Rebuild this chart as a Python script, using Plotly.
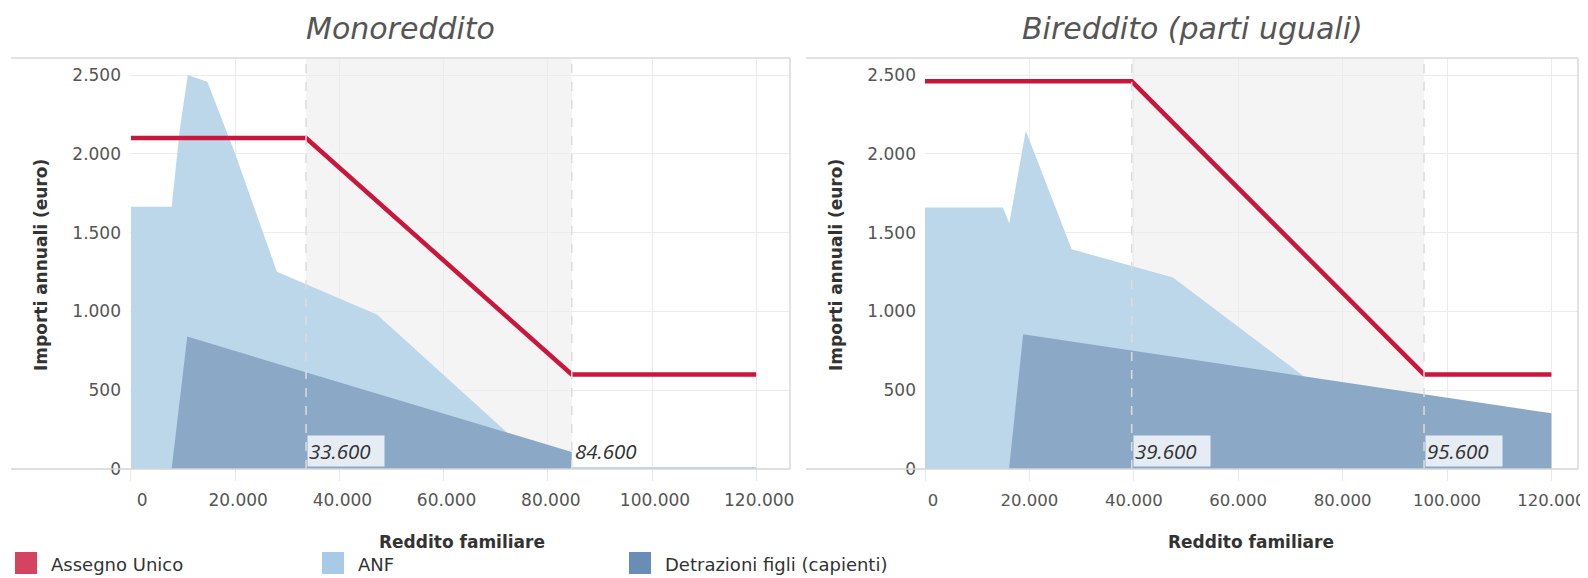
import plotly.graph_objects as go

# page body has an 8px margin: figure is sized to fill the rest of the window
OFF = 8
W, H = 1588 - OFF, 578 - OFF

# ---------------- data ----------------
# Monoreddito
mono_au_x = [0, 33600, 84600, 120000]
mono_au_y = [2100, 2100, 600, 600]
mono_anf_x = [0, 7800, 9400, 10900, 14650, 20000, 28000, 47200, 72400, 84600, 120000]
mono_anf_y = [1664, 1664, 2160, 2500, 2457, 2000, 1252, 980, 226, 12, 12]
mono_det_x = [0, 7800, 10800, 84600, 84600, 120000]
mono_det_y = [0, 0, 840, 108, 0, 0]
mono_marks = [33600, 84600]

# Bireddito (parti uguali)
bi_au_x = [0, 39600, 95600, 120000]
bi_au_y = [2460, 2460, 600, 600]
bi_anf_x = [0, 14900, 16150, 19300, 28100, 47500, 73100, 84000, 95600, 120000]
bi_anf_y = [1660, 1660, 1560, 2147, 1394, 1215, 575, 300, 60, 10]
bi_det_x = [0, 16100, 18800, 120000]
bi_det_y = [0, 0, 855, 353]
bi_marks = [39600, 95600]

titles = ["Monoreddito", "Bireddito (parti uguali)"]
series_names = ["Assegno Unico", "ANF", "Detrazioni figli (capienti)"]
x_title = "Reddito familiare"
y_title = "Importi annuali (euro)"
mark_labels_mono = ["33.600", "84.600"]
mark_labels_bi = ["39.600", "95.600"]
x_tickvals = [0, 20000, 40000, 60000, 80000, 100000, 120000]
x_ticklabels = ["\u00a0\u00a0\u00a00", "20.000", "40.000", "60.000", "80.000", "100.000", "120.000"]

# ---------------- style ----------------
RED = "#c9163c"
ANF_FILL = "#bcd7ea"
DET_FILL = "#8ba9c7"
LEG_COLORS = ["#d4435f", "#a7cae6", "#6a8db5"]
GRID = "#ececec"
BAND = "#f4f4f4"
TICKFONT = dict(family="DejaVu Sans", size=17, color="#555555")
TITLEFONT = dict(family="DejaVu Sans", size=17, color="#333333", weight=700)


def px(x):
    return (x - OFF) / W


def py(y):
    return 1 - (y - OFF) / H


# pixel geometry (window pixels) of the two plot areas
L_X0, L_X1 = 130, 790
R_X0, R_X1 = 925, 1578
Y_TOP, Y_BOT = 58, 469

fig = go.Figure()


def add_panel(xa, ya, au_x, au_y, anf_x, anf_y, det_x, det_y):
    fig.add_trace(go.Scatter(x=anf_x, y=anf_y, mode="lines", fill="tozeroy",
                             fillcolor=ANF_FILL, line=dict(width=0, color=ANF_FILL),
                             name=series_names[1], showlegend=False, xaxis=xa, yaxis=ya))
    fig.add_trace(go.Scatter(x=det_x, y=det_y, mode="lines", fill="tozeroy",
                             fillcolor=DET_FILL, line=dict(width=0, color=DET_FILL),
                             name=series_names[2], showlegend=False, xaxis=xa, yaxis=ya))
    fig.add_trace(go.Scatter(x=au_x, y=au_y, mode="lines",
                             line=dict(width=4.5, color=RED),
                             name=series_names[0], showlegend=False, xaxis=xa, yaxis=ya))


add_panel("x", "y", mono_au_x, mono_au_y, mono_anf_x, mono_anf_y, mono_det_x, mono_det_y)
add_panel("x2", "y2", bi_au_x, bi_au_y, bi_anf_x, bi_anf_y, bi_det_x, bi_det_y)

ydom = [py(Y_BOT), py(Y_TOP)]
ymax = 2500 + (75 - Y_TOP) / 78.8 * 500

xaxis_common = dict(
    showgrid=True, gridcolor=GRID, gridwidth=1, zeroline=False,
    showline=False, tickmode="array", tickvals=x_tickvals, ticktext=x_ticklabels,
    ticks="outside", ticklen=11, tickcolor="#e8e8e8",
    tickfont=TICKFONT, ticklabelstandoff=5, ticklabelshift=3,
    ticklabeloverflow="allow", automargin=False, fixedrange=True,
)
yaxis_common = dict(
    showgrid=True, gridcolor=GRID, gridwidth=1, zeroline=False,
    showline=False, tick0=0, dtick=500, tickformat=",d",
    ticks="", tickfont=TICKFONT, ticklabelstandoff=8, automargin=False,
    range=[0, ymax], domain=ydom, fixedrange=True,
)

fig.update_layout(
    width=W, height=H,
    margin=dict(l=0, r=0, t=0, b=0),
    paper_bgcolor="white", plot_bgcolor="white",
    separators=",.",
    showlegend=False,
    xaxis=dict(xaxis_common, domain=[px(L_X0), px(L_X1)],
               range=[-190, (L_X1 - 131) / 104.2 * 20000], anchor="y"),
    yaxis=dict(yaxis_common, anchor="x"),
    xaxis2=dict(xaxis_common, domain=[px(R_X0), px(R_X1)], ticklabelshift=0,
                tickfont=dict(TICKFONT, size=16.5),
                range=[0, (R_X1 - R_X0) / 104.4 * 20000], anchor="y2"),
    yaxis2=dict(yaxis_common, anchor="x2"),
)

shapes = []
annotations = []

for xr, yr, marks, labels in [("x", "y", mono_marks, mark_labels_mono),
                              ("x2", "y2", bi_marks, mark_labels_bi)]:
    shapes.append(dict(type="rect", xref=xr, yref=yr, x0=marks[0], x1=marks[1],
                       y0=0, y1=ymax, fillcolor=BAND, line=dict(width=0), layer="below"))
    for m, lab in zip(marks, labels):
        shapes.append(dict(type="line", xref=xr, yref=yr, x0=m, x1=m, y0=0, y1=ymax,
                           line=dict(color="#dcdcdc", width=1.5, dash="dash"), layer="above"))
        annotations.append(dict(xref=xr, yref=yr, x=m, y=0, xanchor="left", yanchor="bottom",
                                text=lab, showarrow=False, xshift=1, yshift=2, width=74,
                                align="left",
                                font=dict(family="Open Sans", size=20.5, color="#333333",
                                          style="italic"),
                                bgcolor="rgba(255,255,255,0.78)", borderpad=1))

# panel frame lines (top, bottom axis, right border)
for x0, x1 in [(11, L_X1), (806, R_X1)]:
    shapes.append(dict(type="line", xref="paper", yref="paper", x0=px(x0), x1=px(x1),
                       y0=py(Y_TOP), y1=py(Y_TOP), line=dict(color="#dadada", width=1.5)))
    shapes.append(dict(type="line", xref="paper", yref="paper", x0=px(x0), x1=px(x1),
                       y0=py(Y_BOT), y1=py(Y_BOT), line=dict(color="#d4d4d4", width=1.5)))
    shapes.append(dict(type="line", xref="paper", yref="paper", x0=px(x1), x1=px(x1),
                       y0=py(Y_BOT), y1=py(Y_TOP), line=dict(color="#dadada", width=1.5)))

# titles
for cx, t in [(400, titles[0]), (1192, titles[1])]:
    annotations.append(dict(xref="paper", yref="paper", x=px(cx), y=py(OFF + 1), text=t,
                            showarrow=False, xanchor="center", yanchor="top",
                            font=dict(family="DejaVu Sans ExtraLight, DejaVu Sans", size=30,
                                      color="#555555", style="italic", weight=200)))

# axis titles
for cx in [462, 1251]:
    annotations.append(dict(xref="paper", yref="paper", x=px(cx), y=py(542), text=x_title,
                            showarrow=False, xanchor="center", yanchor="middle",
                            font=TITLEFONT))
for cx in [41, 836]:
    annotations.append(dict(xref="paper", yref="paper", x=px(cx), y=py(265), text=y_title,
                            showarrow=False, xanchor="center", yanchor="middle", textangle=-90,
                            font=TITLEFONT))

# legend (manual)
leg_sq = [15, 322, 629]
for x0, name, col in zip(leg_sq, series_names, LEG_COLORS):
    shapes.append(dict(type="rect", xref="paper", yref="paper", x0=px(x0), x1=px(x0 + 22),
                       y0=py(574), y1=py(552), fillcolor=col, line=dict(width=0)))
    annotations.append(dict(xref="paper", yref="paper", x=px(x0 + 34), y=py(564), text=name,
                            showarrow=False, xanchor="left", yanchor="middle",
                            font=dict(family="DejaVu Sans", size=18, color="#333333")))

fig.update_layout(shapes=shapes, annotations=annotations)

fig.write_html("out.html")
